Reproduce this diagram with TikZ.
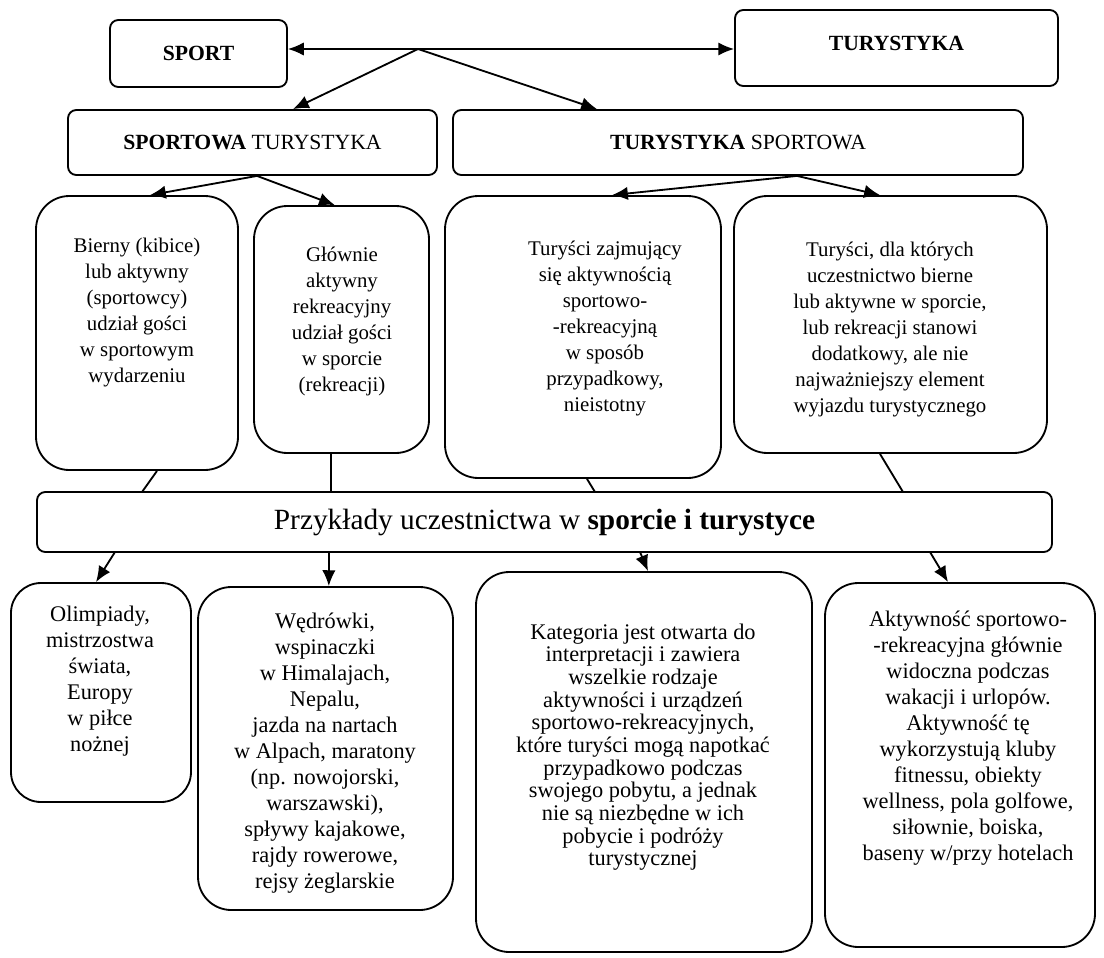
\documentclass[tikz,border=0pt]{standalone}
\usepackage{fontspec}
\setmainfont{Liberation Serif}
\usepackage{tikz}
\usetikzlibrary{arrows.meta}
\usetikzlibrary{positioning}

\begin{document}
\begin{tikzpicture}[x=0.6pt,y=-0.6pt,line width=1.1pt,
          >={Latex[length=9.5pt,width=8pt]},
          head/.style={draw,rounded corners=5pt,inner sep=0pt,font=\fontsize{13}{15.6}\selectfont},
          tall/.style={draw,rounded corners=20pt,inner sep=0pt},
          txt/.style={align=center,inner sep=0pt,font=\fontsize{12.5}{15.6}\selectfont},
          txtb/.style={align=center,inner sep=0pt,font=\fontsize{13.4}{15.6}\selectfont}]
          \useasboundingbox (0,0) rectangle (1104,957);
          % top
          \node[head,minimum width=106.2pt,minimum height=40.2pt](sport) at (198.5,53.5){\textbf{SPORT}};
          \node[head,minimum width=193.8pt,minimum height=45.6pt,text depth=6pt](tur) at (896.5,48){\textbf{TURYSTYKA}};
          \node[head,minimum width=221.4pt,minimum height=39pt](spt) at (252.5,142.5){\textbf{SPORTOWA} TURYSTYKA};
          \node[head,minimum width=342pt,minimum height=39pt](tsp) at (738,142.5){\textbf{TURYSTYKA} SPORTOWA};
          \coordinate (hub) at (418,49);
          \draw[<->](sport.east |- hub)--(tur.west |- hub);
          \draw[->](hub)--([xshift=24.3pt]spt.north);
          \draw[->](hub)--([xshift=-84.6pt]tsp.north);
          % second row
          \node[tall,minimum width=121.2pt,minimum height=164.4pt](b1) at (137,333){};
          \node[tall,minimum width=105pt,minimum height=148.2pt](b2) at (341.5,329.5){};
          \node[tall,minimum width=165.6pt,minimum height=169.2pt](b3) at (583,337){};
          \node[tall,minimum width=187.8pt,minimum height=154.2pt](b4) at (890.5,324.5){};
          \node[txt](b1t) at (137,312.5){Bierny (kibice)\\lub aktywny\\(sportowcy)\\udział gości\\w sportowym\\wydarzeniu};
          \node[txt](b2t) at (342,321.5){Głównie\\aktywny\\rekreacyjny\\udział gości\\w sporcie\\(rekreacji)};
          \node[txt](b3t) at (605,328.5){Turyści zajmujący\\się aktywnością\\sportowo-\\-rekreacyjną\\w sposób\\przypadkowy,\\nieistotny};
          \node[txt](b4t) at (890,330){Turyści, dla których\\uczestnictwo bierne\\lub aktywne w sporcie,\\lub rekreacji stanowi\\dodatkowy, ale nie\\najważniejszy element\\wyjazdu turystycznego};
          \draw[->]([xshift=2.7pt]spt.south)--([xshift=7.8pt]b1.north);
          \draw[->]([xshift=2.7pt]spt.south)--([xshift=-4pt]b2.north);
          \draw[->]([xshift=35.4pt]tsp.south)--([xshift=17.4pt]b3.north);
          \draw[->]([xshift=35.4pt]tsp.south)--([xshift=-6.3pt]b4.north);
          % examples
          \node[head,minimum width=609pt,minimum height=36pt,font=\fontsize{17.6}{20}\selectfont](ex) at (544.5,522){Przykłady uczestnictwa w \textbf{sporcie i turystyce}};
          \coordinate (e1) at (142,492); \coordinate (e2) at (331,492);
          \coordinate (e3) at (595,492); \coordinate (e4) at (903,492);
          \draw([xshift=12pt]b1.south)--(e1);
          \draw([xshift=-6.3pt]b2.south)--(e2);
          \draw([xshift=2.4pt]b3.south)--(e3);
          \draw([xshift=-6.3pt]b4.south)--(e4);
          % third row
          \node[tall,rounded corners=18pt,minimum width=108pt,minimum height=131.4pt](c1) at (101,692.5){};
          \node[tall,minimum width=153pt,minimum height=193.8pt](c2) at (325.5,748.5){};
          \node[tall,minimum width=201.6pt,minimum height=228pt](c3) at (644,762){};
          \node[tall,minimum width=162pt,minimum height=218.4pt](c4) at (960,765){};
          \node[txtb](c1t) at (100,681){Olimpiady,\\mistrzostwa\\świata,\\Europy\\w piłce\\nożnej};
          \node[txtb](c2t) at (325,753){Wędrówki,\\wspinaczki\\w Himalajach,\\Nepalu,\\jazda na nartach\\w Alpach, maratony\\(np. nowojorski,\\warszawski),\\spływy kajakowe,\\rajdy rowerowe,\\rejsy żeglarskie};
          \node[txtb,font=\fontsize{13.4}{13.6}\selectfont](c3t) at (643,747){Kategoria jest otwarta do\\interpretacji i zawiera\\wszelkie rodzaje\\aktywności i urządzeń\\sportowo-rekreacyjnych,\\które turyści mogą napotkać\\przypadkowo podczas\\swojego pobytu, a jednak\\nie są niezbędne w ich\\pobycie i podróży\\turystycznej};
          \node[txtb](c4t) at (968,738.5){Aktywność sportowo-\\-rekreacyjna głównie\\widoczna podczas\\wakacji i urlopów.\\Aktywność tę\\wykorzystują kluby\\fitnessu, obiekty\\wellness, pola golfowe,\\siłownie, boiska,\\baseny w/przy hotelach};
          \coordinate (f1) at (115,552); \coordinate (f2) at (329,552);
          \coordinate (f3) at (640,552); \coordinate (f4) at (930,552);
          \draw[->](f1)--([xshift=-3pt]c1.north);
          \draw[->](f2)--([xshift=2pt]c2.north);
          \draw[->](f3)--([xshift=2.4pt]c3.north);
          \draw[->](f4)--([xshift=-7.2pt]c4.north);
        \end{tikzpicture}
\end{document}
